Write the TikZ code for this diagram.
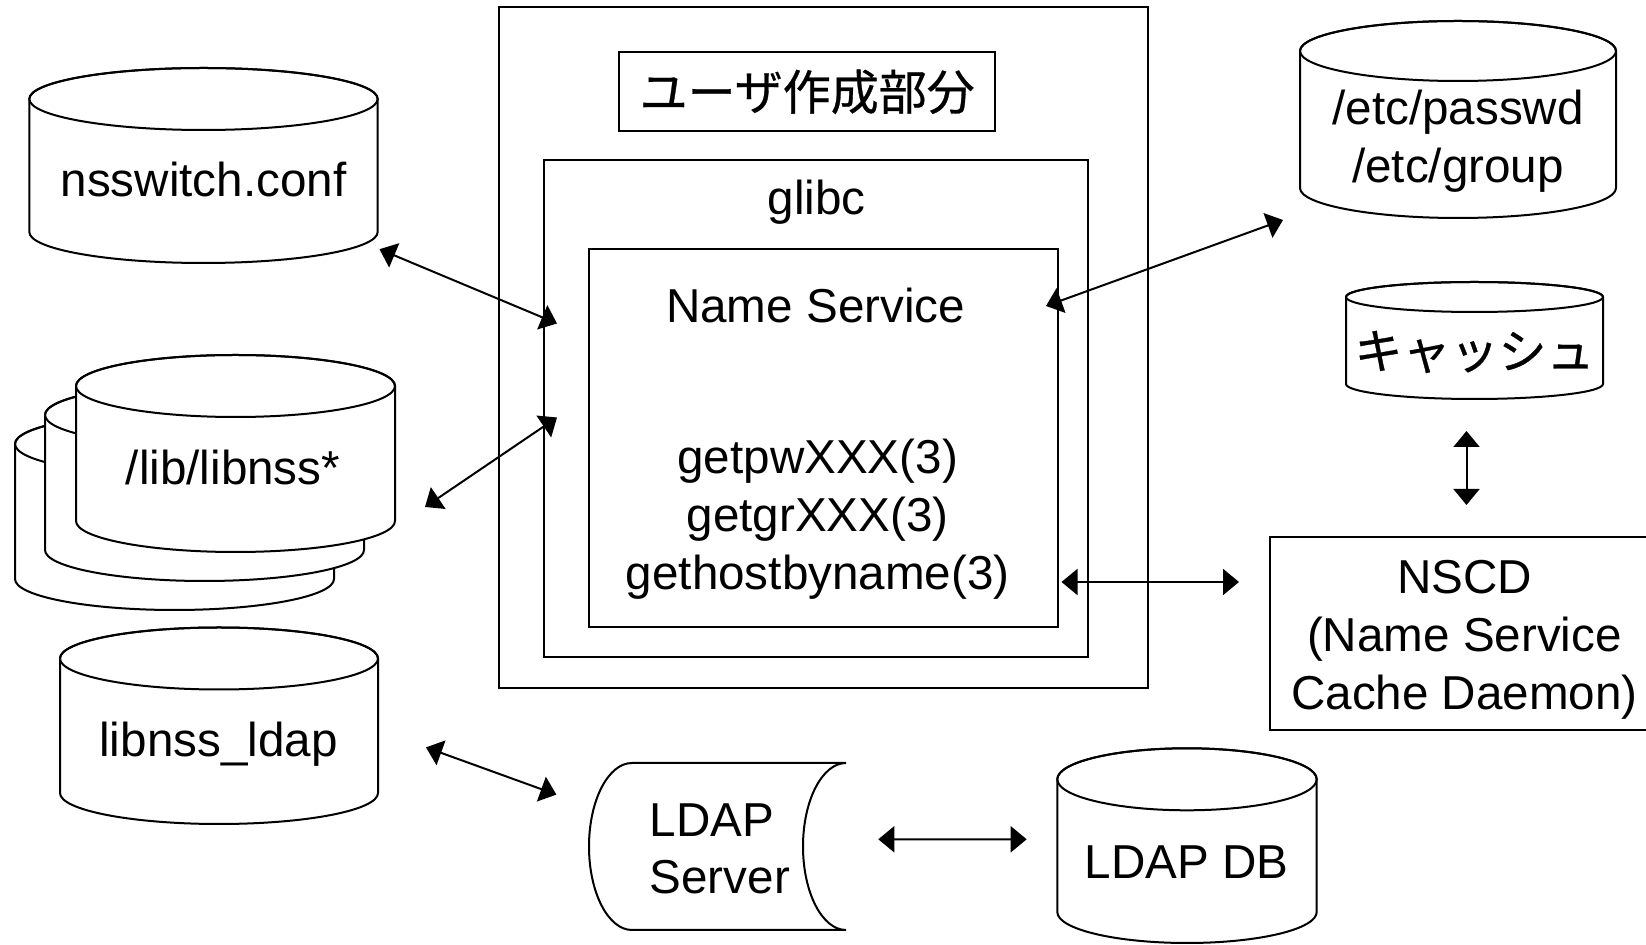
\documentclass[tikz,border=0pt]{standalone}
\usepackage{fontspec}
\setmainfont{Liberation Sans}
\newfontfamily\jpfont[BoldFont={Noto Sans CJK JP},BoldFeatures={FakeBold=0.6}]{Noto Sans CJK JP}
\usetikzlibrary{arrows.meta,fit}

\tikzset{
  frame/.style={draw, inner sep=0pt},
  hull/.style={inner sep=0pt},
  txt/.style={font=\fontsize{23.8pt}{29pt}\selectfont, inner sep=0pt, anchor=base},
  jptxt/.style={font=\jpfont\bfseries\fontsize{24pt}{29pt}\selectfont},
  link/.style={>={Triangle[length=8pt,width=13pt]}, <->},
}

% Database cylinder: name, left x, right x, centre y of top rim, centre y of bottom rim, rim y-radius
% (one unit = 0.5pt, y grows downwards)
\newcommand\dbcyl[6]{%
  \pgfmathsetmacro\dbrx{(#3-#2)/4}%
  \pgfmathsetmacro\dbry{#6/2}%
  \filldraw[fill=white] (#2,#4) -- (#2,#5)
    arc[start angle=180,end angle=360,x radius=\dbrx pt,y radius=\dbry pt] -- (#3,#4)
    arc[start angle=0,end angle=180,x radius=\dbrx pt,y radius=\dbry pt] -- cycle;
  \draw ({(#2+#3)/2},#4) ellipse[x radius=\dbrx pt,y radius=\dbry pt];
  \node[hull, fit={(#2,{#4-#6}) (#3,{#5+#6})}] (#1) {};
}

\begin{document}
\begin{tikzpicture}[x=0.5pt,y=-0.5pt,line width=1pt]
\useasboundingbox (0,0) rectangle (1646,945);
\fill[white] (0,0) rectangle (1646,945);
\clip (0,0) rectangle (1646,945);

% user program with glibc inside
\node[frame, fit={(498.6,7.3) (1148.4,687.6)}] (prog) {};
\node[frame, jptxt, minimum width=187.9pt, minimum height=39.35pt] (custom) at (807.2,91.85) {ユーザ作成部分};
\node[frame, fit={(544,159.6) (1088,657.1)}] (glibc) {};
\node[txt] (glibcname) at (816.5,215) {glibc};
\node[frame, fit={(589,249) (1058,626.7)}] (ns) {};
\node[txt] (nsname) at (815.6,322.3) {Name Service};
\node[txt] (fpw) at (817.7,473.4) {getpwXXX(3)};
\node[txt] (fgr) at (817.7,531.2) {getgrXXX(3)};
\node[txt] (fhost) at (817.7,590) {gethostbyname(3)};

% configuration and modules on the left
\dbcyl{nss}{29.3}{377.7}{99}{232}{31}
\node[txt] (nsstext) at (203.5,197) {nsswitch.conf};

\dbcyl{libC}{15}{334}{444}{579}{31}
\dbcyl{libB}{45}{364}{415}{550}{31}
\dbcyl{libA}{76}{395}{386}{521}{31}
\node[txt] (libtext) at (233,485) {/lib/libnss*};

\dbcyl{ldapmod}{60}{378}{658.5}{793}{31}
\node[txt] (ldapmodtext) at (218.5,757) {libnss\_ldap};

% local files, cache and daemon on the right
\dbcyl{passwd}{1300}{1616}{51}{188}{30}
\node[txt] (passwdtext) at (1458,125) {/etc/passwd};
\node[txt] (grouptext) at (1458,182.6) {/etc/group};

\dbcyl{cache}{1346}{1603}{297}{384}{15}
\node[jptxt, inner sep=0pt] (cachetext) at (1474.5,352) {キャッシュ};

\node[frame, fit={(1270,537) (1660,730)}] (nscd) {};
\node[txt] (nscd1) at (1464.5,594) {NSCD};
\node[txt] (nscd2) at (1464.5,652) {(Name Service};
\node[txt] (nscd3) at (1464.5,709.6) {Cache Daemon)};

% LDAP server and its database
\draw (632,763) -- (846,763)
  arc[start angle=90,end angle=270,x radius=21.5pt,y radius=41.75pt] -- (632,930)
  arc[start angle=270,end angle=90,x radius=21.5pt,y radius=41.75pt] -- cycle;
\node[hull, fit={(589,763) (846,930)}] (ldapsrv) {};
\node[txt, anchor=base west] (srv1) at (648.7,836.5) {LDAP};
\node[txt, anchor=base west] (srv2) at (648.7,894) {Server};

\dbcyl{ldapdb}{1057.3}{1316.7}{779.3}{912}{31}
\node[txt] (ldapdbtext) at (1186.5,879) {LDAP DB};

% connectors
\draw[link] ([shift={(0.8,-14.8)}]nss.south east) -- ([shift={(14,-84.85)}]glibc.west);
\draw[link] ([shift={(29,53.5)}]libA.east) -- ([shift={(14,9.15)}]glibc.west);
\draw[link] ([shift={(-13,-131.85)}]ns.east) -- ([shift={(-16,1)}]passwd.south west);
\draw[link] ([shift={(2.5,144.15)}]ns.east) -- ([shift={(-30,-51.5)}]nscd.west);
\draw[link] ([shift={(-8,31)}]cache.south) -- ([shift={(1.5,-31)}]nscd.north);
\draw[link] ([shift={(47,21.65)}]ldapmod.east) -- ([shift={(-31.6,-51.9)}]ldapsrv.west);
\draw[link] ([shift={(31.3,-7.2)}]ldapsrv.east) -- ([shift={(-29.6,-6.35)}]ldapdb.west);
\end{tikzpicture}
\end{document}
